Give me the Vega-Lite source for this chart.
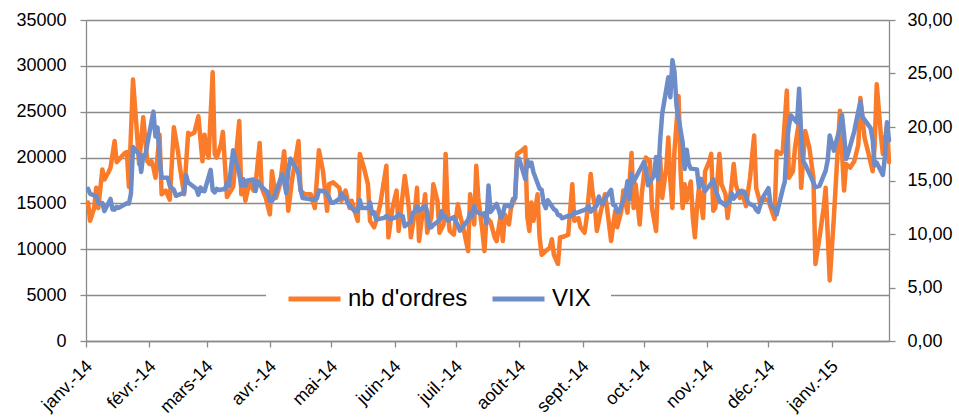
{
"$schema": "https://vega.github.io/schema/vega-lite/v6.json",
"width": 803, "height": 321,
"autosize": {"type": "none"},
"padding": {"left": 86, "top": 20, "right": 70, "bottom": 77},
"background": "white",
"config": {"font": "Liberation Sans", "view": {"stroke": null}},
"datasets": {
"ordres": [
{"d":"2014/01/02","v":15100},{"d":"2014/01/03","v":13100},{"d":"2014/01/05","v":14500},{"d":"2014/01/06","v":16700},{"d":"2014/01/07","v":14500},{"d":"2014/01/09","v":18700},{"d":"2014/01/10","v":17600},{"d":"2014/01/12","v":18400},{"d":"2014/01/13","v":18900},{"d":"2014/01/15","v":21800},{"d":"2014/01/16","v":19500},{"d":"2014/01/18","v":20000},{"d":"2014/01/20","v":20500},{"d":"2014/01/21","v":20600},{"d":"2014/01/22","v":16800},{"d":"2014/01/24","v":28500},{"d":"2014/01/26","v":22500},{"d":"2014/01/27","v":19300},{"d":"2014/01/29","v":24400},{"d":"2014/01/31","v":19600},
{"d":"2014/02/01","v":19300},{"d":"2014/02/02","v":19600},{"d":"2014/02/03","v":18900},{"d":"2014/02/04","v":17800},{"d":"2014/02/06","v":22500},{"d":"2014/02/07","v":16000},{"d":"2014/02/09","v":16400},{"d":"2014/02/11","v":15400},{"d":"2014/02/13","v":23300},{"d":"2014/02/15","v":20700},{"d":"2014/02/16","v":18900},{"d":"2014/02/18","v":16000},{"d":"2014/02/20","v":22700},{"d":"2014/02/21","v":22500},{"d":"2014/02/23","v":22700},{"d":"2014/02/25","v":24500},{"d":"2014/02/27","v":19600},{"d":"2014/02/28","v":22500},
{"d":"2014/03/01","v":20700},{"d":"2014/03/02","v":20000},{"d":"2014/03/04","v":29300},{"d":"2014/03/05","v":20400},{"d":"2014/03/06","v":20000},{"d":"2014/03/08","v":21400},{"d":"2014/03/09","v":22800},{"d":"2014/03/11","v":15700},{"d":"2014/03/14","v":16800},{"d":"2014/03/17","v":24000},{"d":"2014/03/18","v":16000},{"d":"2014/03/19","v":17100},{"d":"2014/03/20","v":15300},{"d":"2014/03/22","v":17300},{"d":"2014/03/24","v":16400},{"d":"2014/03/25","v":17100},{"d":"2014/03/27","v":21600},{"d":"2014/03/28","v":16700},{"d":"2014/03/30","v":15600},
{"d":"2014/04/01","v":13800},{"d":"2014/04/02","v":18500},{"d":"2014/04/04","v":15600},{"d":"2014/04/06","v":17100},{"d":"2014/04/08","v":20700},{"d":"2014/04/10","v":14200},{"d":"2014/04/12","v":17800},{"d":"2014/04/15","v":21800},{"d":"2014/04/16","v":16400},{"d":"2014/04/18","v":16000},{"d":"2014/04/21","v":16000},{"d":"2014/04/23","v":14500},{"d":"2014/04/25","v":20800},{"d":"2014/04/27","v":18500},{"d":"2014/04/29","v":14200},{"d":"2014/04/30","v":17100},
{"d":"2014/05/02","v":17300},{"d":"2014/05/05","v":16700},{"d":"2014/05/06","v":15300},{"d":"2014/05/08","v":16400},{"d":"2014/05/10","v":14500},{"d":"2014/05/11","v":15300},{"d":"2014/05/13","v":13800},{"d":"2014/05/14","v":13100},{"d":"2014/05/15","v":20400},{"d":"2014/05/17","v":18900},{"d":"2014/05/19","v":17100},{"d":"2014/05/20","v":13100},{"d":"2014/05/22","v":12400},{"d":"2014/05/23","v":13100},{"d":"2014/05/25","v":14900},{"d":"2014/05/28","v":19100},{"d":"2014/05/29","v":11300},{"d":"2014/05/31","v":14500},
{"d":"2014/06/02","v":16400},{"d":"2014/06/03","v":12000},{"d":"2014/06/06","v":18000},{"d":"2014/06/07","v":16400},{"d":"2014/06/08","v":14500},{"d":"2014/06/09","v":11300},{"d":"2014/06/11","v":14200},{"d":"2014/06/12","v":16700},{"d":"2014/06/13","v":10900},{"d":"2014/06/14","v":12700},{"d":"2014/06/16","v":16000},{"d":"2014/06/17","v":11800},{"d":"2014/06/19","v":13500},{"d":"2014/06/20","v":17100},{"d":"2014/06/22","v":15300},{"d":"2014/06/23","v":11800},{"d":"2014/06/25","v":12700},{"d":"2014/06/26","v":20400},{"d":"2014/06/27","v":14200},{"d":"2014/06/28","v":12000},{"d":"2014/06/30","v":11600},
{"d":"2014/07/02","v":14900},{"d":"2014/07/03","v":13800},{"d":"2014/07/05","v":12000},{"d":"2014/07/07","v":9800},{"d":"2014/07/08","v":16000},{"d":"2014/07/10","v":12700},{"d":"2014/07/11","v":19100},{"d":"2014/07/12","v":15600},{"d":"2014/07/14","v":12000},{"d":"2014/07/15","v":9800},{"d":"2014/07/16","v":13500},{"d":"2014/07/18","v":13000},{"d":"2014/07/20","v":11300},{"d":"2014/07/21","v":10900},{"d":"2014/07/23","v":13800},{"d":"2014/07/24","v":10900},{"d":"2014/07/25","v":13800},{"d":"2014/07/27","v":12700},{"d":"2014/07/28","v":14500},{"d":"2014/07/30","v":15600},{"d":"2014/07/31","v":20400},
{"d":"2014/08/02","v":20700},{"d":"2014/08/04","v":21100},{"d":"2014/08/05","v":13500},{"d":"2014/08/06","v":12000},{"d":"2014/08/07","v":15100},{"d":"2014/08/08","v":13100},{"d":"2014/08/10","v":16000},{"d":"2014/08/11","v":11300},{"d":"2014/08/12","v":9400},{"d":"2014/08/14","v":9800},{"d":"2014/08/16","v":10200},{"d":"2014/08/17","v":11100},{"d":"2014/08/18","v":9400},{"d":"2014/08/20","v":8400},{"d":"2014/08/21","v":11300},{"d":"2014/08/23","v":11400},{"d":"2014/08/25","v":11600},{"d":"2014/08/27","v":17100},{"d":"2014/08/28","v":13100},{"d":"2014/08/30","v":13400},{"d":"2014/08/31","v":12400},
{"d":"2014/09/02","v":11800},{"d":"2014/09/03","v":13400},{"d":"2014/09/05","v":18200},{"d":"2014/09/06","v":16000},{"d":"2014/09/07","v":14900},{"d":"2014/09/08","v":12000},{"d":"2014/09/10","v":14200},{"d":"2014/09/12","v":16000},{"d":"2014/09/13","v":14500},{"d":"2014/09/15","v":10900},{"d":"2014/09/17","v":14200},{"d":"2014/09/18","v":12400},{"d":"2014/09/20","v":14200},{"d":"2014/09/21","v":16400},{"d":"2014/09/23","v":14000},{"d":"2014/09/25","v":20500},{"d":"2014/09/26","v":14500},{"d":"2014/09/27","v":17100},{"d":"2014/09/29","v":12700},{"d":"2014/09/30","v":16000},
{"d":"2014/10/02","v":20000},{"d":"2014/10/04","v":19600},{"d":"2014/10/05","v":14500},{"d":"2014/10/07","v":12000},{"d":"2014/10/08","v":17100},{"d":"2014/10/09","v":20000},{"d":"2014/10/10","v":15600},{"d":"2014/10/12","v":18900},{"d":"2014/10/13","v":22200},{"d":"2014/10/14","v":17400},{"d":"2014/10/15","v":14500},{"d":"2014/10/16","v":20700},{"d":"2014/10/18","v":26700},{"d":"2014/10/19","v":18500},{"d":"2014/10/20","v":14500},{"d":"2014/10/21","v":17100},{"d":"2014/10/22","v":15300},{"d":"2014/10/24","v":17400},{"d":"2014/10/25","v":13400},{"d":"2014/10/26","v":11300},{"d":"2014/10/27","v":14500},{"d":"2014/10/28","v":16700},{"d":"2014/10/30","v":13400},{"d":"2014/10/31","v":18500},
{"d":"2014/11/02","v":19600},{"d":"2014/11/03","v":20400},{"d":"2014/11/04","v":14200},{"d":"2014/11/05","v":14500},{"d":"2014/11/07","v":20400},{"d":"2014/11/08","v":17100},{"d":"2014/11/10","v":16000},{"d":"2014/11/11","v":13400},{"d":"2014/11/13","v":17100},{"d":"2014/11/14","v":19300},{"d":"2014/11/15","v":17100},{"d":"2014/11/17","v":15600},{"d":"2014/11/18","v":16400},{"d":"2014/11/20","v":14700},{"d":"2014/11/22","v":17800},{"d":"2014/11/24","v":22400},{"d":"2014/11/25","v":16700},{"d":"2014/11/27","v":15000},{"d":"2014/11/29","v":15500},
{"d":"2014/12/01","v":15300},{"d":"2014/12/04","v":13300},{"d":"2014/12/05","v":20700},{"d":"2014/12/07","v":20400},{"d":"2014/12/08","v":20700},{"d":"2014/12/10","v":27300},{"d":"2014/12/11","v":17800},{"d":"2014/12/13","v":18500},{"d":"2014/12/14","v":21100},{"d":"2014/12/16","v":24000},{"d":"2014/12/17","v":16700},{"d":"2014/12/19","v":22900},{"d":"2014/12/21","v":21100},{"d":"2014/12/23","v":17800},{"d":"2014/12/24","v":8400},{"d":"2014/12/26","v":11300},{"d":"2014/12/28","v":14500},{"d":"2014/12/29","v":16700},{"d":"2014/12/31","v":6600},
{"d":"2015/01/02","v":13400},{"d":"2015/01/05","v":25100},{"d":"2015/01/06","v":20700},{"d":"2015/01/07","v":16400},{"d":"2015/01/08","v":19300},{"d":"2015/01/10","v":18900},{"d":"2015/01/12","v":19600},{"d":"2015/01/14","v":21400},{"d":"2015/01/15","v":26500},{"d":"2015/01/17","v":22200},{"d":"2015/01/19","v":20400},{"d":"2015/01/21","v":18500},{"d":"2015/01/22","v":21400},{"d":"2015/01/23","v":28000},{"d":"2015/01/25","v":22500},{"d":"2015/01/26","v":20400},{"d":"2015/01/28","v":23500},{"d":"2015/01/29","v":19500}
],
"vix": [
{"d":"2014/01/02","v":14.23},{"d":"2014/01/03","v":13.76},{"d":"2014/01/06","v":13.55},{"d":"2014/01/07","v":12.92},{"d":"2014/01/08","v":12.87},{"d":"2014/01/09","v":12.89},{"d":"2014/01/10","v":12.14},{"d":"2014/01/13","v":13.28},{"d":"2014/01/14","v":12.28},{"d":"2014/01/15","v":12.28},{"d":"2014/01/16","v":12.53},{"d":"2014/01/17","v":12.44},{"d":"2014/01/21","v":12.87},{"d":"2014/01/22","v":12.84},{"d":"2014/01/23","v":13.77},{"d":"2014/01/24","v":18.14},{"d":"2014/01/27","v":17.42},{"d":"2014/01/28","v":15.80},{"d":"2014/01/29","v":17.35},{"d":"2014/01/30","v":17.29},{"d":"2014/01/31","v":18.41},
{"d":"2014/02/03","v":21.44},{"d":"2014/02/04","v":19.11},{"d":"2014/02/05","v":19.95},{"d":"2014/02/06","v":17.23},{"d":"2014/02/07","v":15.29},{"d":"2014/02/10","v":15.26},{"d":"2014/02/11","v":14.51},{"d":"2014/02/12","v":14.30},{"d":"2014/02/13","v":14.14},{"d":"2014/02/14","v":13.57},{"d":"2014/02/18","v":13.87},{"d":"2014/02/19","v":15.50},{"d":"2014/02/20","v":14.79},{"d":"2014/02/21","v":14.68},{"d":"2014/02/24","v":14.23},{"d":"2014/02/25","v":13.67},{"d":"2014/02/26","v":14.35},{"d":"2014/02/27","v":14.04},{"d":"2014/02/28","v":14.00},
{"d":"2014/03/03","v":16.00},{"d":"2014/03/04","v":14.10},{"d":"2014/03/05","v":13.89},{"d":"2014/03/06","v":14.21},{"d":"2014/03/07","v":14.11},{"d":"2014/03/10","v":14.20},{"d":"2014/03/11","v":14.80},{"d":"2014/03/12","v":14.47},{"d":"2014/03/13","v":16.22},{"d":"2014/03/14","v":17.82},{"d":"2014/03/17","v":15.64},{"d":"2014/03/18","v":14.52},{"d":"2014/03/19","v":15.12},{"d":"2014/03/20","v":14.52},{"d":"2014/03/21","v":15.00},{"d":"2014/03/24","v":15.09},{"d":"2014/03/25","v":14.02},{"d":"2014/03/26","v":14.93},{"d":"2014/03/27","v":14.62},{"d":"2014/03/28","v":14.41},{"d":"2014/03/31","v":13.88},
{"d":"2014/04/01","v":13.09},{"d":"2014/04/02","v":13.09},{"d":"2014/04/03","v":13.37},{"d":"2014/04/04","v":13.96},{"d":"2014/04/07","v":15.57},{"d":"2014/04/08","v":14.89},{"d":"2014/04/09","v":13.82},{"d":"2014/04/10","v":15.89},{"d":"2014/04/11","v":17.03},{"d":"2014/04/14","v":16.11},{"d":"2014/04/15","v":15.61},{"d":"2014/04/16","v":14.18},{"d":"2014/04/17","v":13.36},{"d":"2014/04/21","v":13.25},{"d":"2014/04/22","v":13.19},{"d":"2014/04/23","v":13.27},{"d":"2014/04/24","v":13.32},{"d":"2014/04/25","v":14.06},{"d":"2014/04/28","v":13.97},{"d":"2014/04/29","v":13.71},{"d":"2014/04/30","v":13.41},
{"d":"2014/05/01","v":12.91},{"d":"2014/05/02","v":12.91},{"d":"2014/05/05","v":13.29},{"d":"2014/05/06","v":13.80},{"d":"2014/05/07","v":13.40},{"d":"2014/05/08","v":13.43},{"d":"2014/05/09","v":12.92},{"d":"2014/05/12","v":12.23},{"d":"2014/05/13","v":12.13},{"d":"2014/05/14","v":12.17},{"d":"2014/05/15","v":13.17},{"d":"2014/05/16","v":12.44},{"d":"2014/05/19","v":12.42},{"d":"2014/05/20","v":12.96},{"d":"2014/05/21","v":11.91},{"d":"2014/05/22","v":12.03},{"d":"2014/05/23","v":11.36},{"d":"2014/05/27","v":11.51},{"d":"2014/05/28","v":11.68},{"d":"2014/05/29","v":11.57},{"d":"2014/05/30","v":11.40},
{"d":"2014/06/02","v":11.58},{"d":"2014/06/03","v":11.87},{"d":"2014/06/04","v":11.68},{"d":"2014/06/05","v":11.68},{"d":"2014/06/06","v":10.73},{"d":"2014/06/09","v":11.15},{"d":"2014/06/10","v":11.99},{"d":"2014/06/11","v":12.13},{"d":"2014/06/12","v":12.56},{"d":"2014/06/13","v":12.18},{"d":"2014/06/16","v":12.65},{"d":"2014/06/17","v":12.06},{"d":"2014/06/18","v":10.61},{"d":"2014/06/19","v":10.62},{"d":"2014/06/20","v":10.85},{"d":"2014/06/23","v":11.26},{"d":"2014/06/24","v":12.13},{"d":"2014/06/25","v":11.59},{"d":"2014/06/26","v":11.63},{"d":"2014/06/27","v":11.26},{"d":"2014/06/30","v":11.57},
{"d":"2014/07/01","v":11.15},{"d":"2014/07/02","v":10.82},{"d":"2014/07/03","v":10.32},{"d":"2014/07/07","v":11.33},{"d":"2014/07/08","v":11.98},{"d":"2014/07/09","v":11.65},{"d":"2014/07/10","v":12.59},{"d":"2014/07/11","v":12.08},{"d":"2014/07/14","v":11.82},{"d":"2014/07/15","v":11.96},{"d":"2014/07/16","v":11.00},{"d":"2014/07/17","v":14.54},{"d":"2014/07/18","v":12.06},{"d":"2014/07/21","v":12.81},{"d":"2014/07/22","v":12.24},{"d":"2014/07/23","v":11.52},{"d":"2014/07/24","v":11.84},{"d":"2014/07/25","v":12.69},{"d":"2014/07/28","v":12.56},{"d":"2014/07/29","v":13.28},{"d":"2014/07/30","v":13.33},{"d":"2014/07/31","v":16.95},
{"d":"2014/08/01","v":17.03},{"d":"2014/08/04","v":15.12},{"d":"2014/08/05","v":16.87},{"d":"2014/08/06","v":16.37},{"d":"2014/08/07","v":16.66},{"d":"2014/08/08","v":15.77},{"d":"2014/08/11","v":14.23},{"d":"2014/08/12","v":14.13},{"d":"2014/08/13","v":12.90},{"d":"2014/08/14","v":12.42},{"d":"2014/08/15","v":13.15},{"d":"2014/08/18","v":12.32},{"d":"2014/08/19","v":12.21},{"d":"2014/08/20","v":11.78},{"d":"2014/08/21","v":11.76},{"d":"2014/08/22","v":11.47},{"d":"2014/08/25","v":11.70},{"d":"2014/08/26","v":11.63},{"d":"2014/08/27","v":11.78},{"d":"2014/08/28","v":12.05},{"d":"2014/08/29","v":11.98},
{"d":"2014/09/02","v":12.25},{"d":"2014/09/03","v":12.36},{"d":"2014/09/04","v":12.64},{"d":"2014/09/05","v":12.09},{"d":"2014/09/08","v":12.66},{"d":"2014/09/09","v":13.50},{"d":"2014/09/10","v":12.88},{"d":"2014/09/11","v":12.80},{"d":"2014/09/12","v":13.31},{"d":"2014/09/15","v":14.12},{"d":"2014/09/16","v":12.73},{"d":"2014/09/17","v":12.65},{"d":"2014/09/18","v":12.03},{"d":"2014/09/19","v":12.11},{"d":"2014/09/22","v":13.69},{"d":"2014/09/23","v":14.93},{"d":"2014/09/24","v":13.27},{"d":"2014/09/25","v":15.64},{"d":"2014/09/26","v":14.85},{"d":"2014/09/29","v":15.98},{"d":"2014/09/30","v":16.31},
{"d":"2014/10/01","v":16.71},{"d":"2014/10/02","v":16.16},{"d":"2014/10/03","v":14.55},{"d":"2014/10/06","v":15.46},{"d":"2014/10/07","v":17.20},{"d":"2014/10/08","v":15.11},{"d":"2014/10/09","v":18.76},{"d":"2014/10/10","v":21.24},{"d":"2014/10/13","v":24.64},{"d":"2014/10/14","v":22.79},{"d":"2014/10/15","v":26.25},{"d":"2014/10/16","v":25.20},{"d":"2014/10/17","v":21.99},{"d":"2014/10/20","v":18.57},{"d":"2014/10/21","v":16.08},{"d":"2014/10/22","v":17.87},{"d":"2014/10/23","v":16.53},{"d":"2014/10/24","v":16.11},{"d":"2014/10/27","v":16.04},{"d":"2014/10/28","v":14.39},{"d":"2014/10/29","v":15.15},{"d":"2014/10/30","v":14.52},{"d":"2014/10/31","v":14.03},
{"d":"2014/11/03","v":14.73},{"d":"2014/11/04","v":15.10},{"d":"2014/11/05","v":14.17},{"d":"2014/11/06","v":13.67},{"d":"2014/11/07","v":13.12},{"d":"2014/11/10","v":12.67},{"d":"2014/11/11","v":12.92},{"d":"2014/11/12","v":13.02},{"d":"2014/11/13","v":13.79},{"d":"2014/11/14","v":13.31},{"d":"2014/11/17","v":13.99},{"d":"2014/11/18","v":13.86},{"d":"2014/11/19","v":13.96},{"d":"2014/11/20","v":13.58},{"d":"2014/11/21","v":12.90},{"d":"2014/11/24","v":12.62},{"d":"2014/11/25","v":12.25},{"d":"2014/11/26","v":12.07},{"d":"2014/11/28","v":13.33},
{"d":"2014/12/01","v":14.29},{"d":"2014/12/02","v":12.85},{"d":"2014/12/03","v":12.47},{"d":"2014/12/04","v":12.38},{"d":"2014/12/05","v":11.82},{"d":"2014/12/08","v":14.21},{"d":"2014/12/09","v":14.89},{"d":"2014/12/10","v":18.53},{"d":"2014/12/11","v":20.08},{"d":"2014/12/12","v":21.08},{"d":"2014/12/15","v":20.42},{"d":"2014/12/16","v":23.57},{"d":"2014/12/17","v":19.44},{"d":"2014/12/18","v":16.81},{"d":"2014/12/19","v":16.49},{"d":"2014/12/22","v":15.25},{"d":"2014/12/23","v":14.80},{"d":"2014/12/24","v":14.37},{"d":"2014/12/26","v":14.50},{"d":"2014/12/29","v":15.92},{"d":"2014/12/30","v":16.91},{"d":"2014/12/31","v":19.20},
{"d":"2015/01/02","v":17.79},{"d":"2015/01/05","v":19.92},{"d":"2015/01/06","v":21.12},{"d":"2015/01/07","v":19.31},{"d":"2015/01/08","v":17.01},{"d":"2015/01/09","v":17.55},{"d":"2015/01/12","v":19.60},{"d":"2015/01/13","v":20.56},{"d":"2015/01/14","v":21.48},{"d":"2015/01/15","v":22.39},{"d":"2015/01/16","v":20.95},{"d":"2015/01/20","v":19.89},{"d":"2015/01/21","v":18.85},{"d":"2015/01/22","v":16.40},{"d":"2015/01/23","v":16.66},{"d":"2015/01/26","v":15.52},{"d":"2015/01/27","v":17.22},{"d":"2015/01/28","v":20.44},{"d":"2015/01/29","v":18.76}
]
},
"layer": [
{
"data": {"name": "ordres"},
"mark": {"type": "line", "strokeWidth": 4.5, "strokeJoin": "round", "strokeCap": "round"},
"encoding": {
"x": {"field": "d", "type": "temporal",
"scale": {"domain": [{"year": 2014, "month": 1, "date": 1}, {"year": 2015, "month": 1, "date": 29}]},
"axis": {"title": null,
"values": [{"year":2014,"month":1,"date":1},{"year":2014,"month":2,"date":1},{"year":2014,"month":3,"date":1},{"year":2014,"month":4,"date":1},{"year":2014,"month":5,"date":1},{"year":2014,"month":6,"date":1},{"year":2014,"month":7,"date":1},{"year":2014,"month":8,"date":1},{"year":2014,"month":9,"date":1},{"year":2014,"month":10,"date":1},{"year":2014,"month":11,"date":1},{"year":2014,"month":12,"date":1},{"year":2015,"month":1,"date":1}],
"labelExpr": "['janv.','févr.','mars','avr.','mai','juin','juil.','août','sept.','oct.','nov.','déc.'][month(datum.value)] + '-' + timeFormat(datum.value, '%y')",
"labelAngle": -45, "labelAlign": "right", "labelBaseline": "top",
"labelFontSize": 18, "labelColor": "black", "labelPadding": 10, "labelOffset": -3,
"labelOverlap": false, "labelFlush": false, "labelBound": false,
"grid": false, "tickSize": 6, "tickColor": "#8a8a8a", "tickWidth": 1.3,
"domainColor": "#8a8a8a", "domainWidth": 1.3}},
"y": {"field": "v", "type": "quantitative",
"scale": {"domain": [0, 35000], "nice": false},
"axis": {"title": null, "values": [0,5000,10000,15000,20000,25000,30000,35000], "format": "d",
"grid": true, "gridColor": "#8a8a8a", "gridWidth": 1.3,
"domainColor": "#8a8a8a", "domainWidth": 1.3, "tickColor": "#8a8a8a", "tickWidth": 1.3, "tickSize": 6,
"labelFontSize": 18, "labelColor": "black", "labelPadding": 14}},
"color": {"datum": "nb d'ordres", "type": "nominal",
"scale": {"domain": ["nb d'ordres", "VIX"], "range": ["#FA7B2A", "#6E8CC8"]},
"legend": {"title": null, "orient": "none", "legendX": 180, "legendY": 246, "direction": "horizontal",
"fillColor": "white", "padding": 20, "symbolType": "stroke", "symbolSize": 2704, "symbolStrokeWidth": 5,
"labelFontSize": 24, "labelColor": "black", "labelOffset": 5, "columnPadding": 22, "clipHeight": 26}}
}
},
{
"data": {"name": "vix"},
"mark": {"type": "line", "strokeWidth": 4.5, "strokeJoin": "round", "strokeCap": "round"},
"encoding": {
"x": {"field": "d", "type": "temporal"},
"y": {"field": "v", "type": "quantitative",
"scale": {"domain": [0, 30], "nice": false},
"axis": {"title": null, "orient": "right", "values": [0,5,10,15,20,25,30],
"labelExpr": "replace(format(datum.value, '.2f'), '.', ',')",
"grid": false, "domainColor": "#8a8a8a", "domainWidth": 1.3, "tickColor": "#8a8a8a", "tickWidth": 1.3, "tickSize": 6,
"labelFontSize": 18, "labelColor": "black", "labelPadding": 12}},
"color": {"datum": "VIX", "type": "nominal"}
}
}
],
"resolve": {"scale": {"y": "independent"}}
}
